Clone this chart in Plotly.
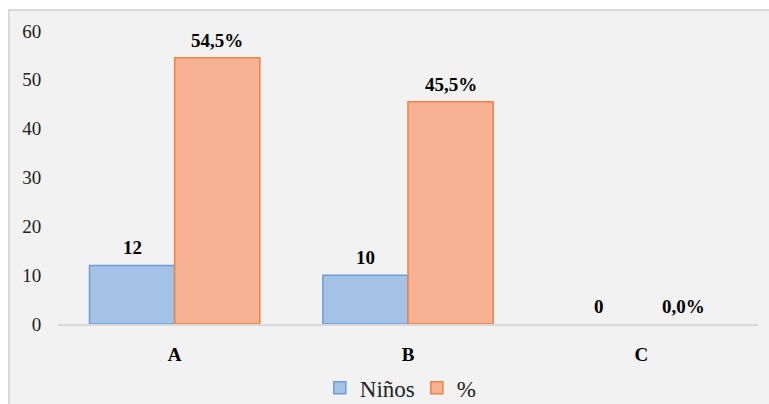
import plotly.graph_objects as go

categories = ["A", "B", "C"]
ninos = [12, 10, 0]
porcentaje = [54.5, 45.5, 0.0]
ninos_labels = ["12", "10", "0"]
pct_labels = ["54,5%", "45,5%", "0,0%"]
y_ticks = [0, 10, 20, 30, 40, 50, 60]

SERIF = "Times New Roman, Liberation Serif, DejaVu Serif, serif"

W, H = 769, 404
ML, MR, MT, MB = 58, 11, 31, 80
BARGAP = 0.27
plot_w = W - ML - MR
cat_w = plot_w / len(categories)
bar_w = cat_w * (1 - BARGAP) / 2
offsets = [-bar_w / 2, bar_w / 2]

fig = go.Figure()
series = [
    ("Niños", ninos, ninos_labels, "#a4c2e6", "#6a9fd6"),
    ("%", porcentaje, pct_labels, "#f6b292", "#ee8240"),
]
annotations = []
for i, (name, vals, labels, fill, edge) in enumerate(series):
    fig.add_trace(go.Bar(
        name=name, x=categories, y=vals,
        marker=dict(color=fill, line=dict(color=edge, width=[1.5 if v > 0 else 0 for v in vals])),
        cliponaxis=False,
    ))
    for c, v, t in zip(categories, vals, labels):
        annotations.append(dict(
            x=c, y=v, xref="x", yref="y", text=t, showarrow=False,
            xshift=offsets[i], yshift=5, yanchor="bottom",
            font=dict(family=SERIF, size=19, color="black", weight="bold"),
        ))

fig.update_layout(
    width=W, height=H,
    margin=dict(l=ML, r=MR, t=MT, b=MB, autoexpand=False),
    paper_bgcolor="white",
    plot_bgcolor="rgba(0,0,0,0)",
    barmode="group",
    bargap=BARGAP,
    bargroupgap=0,
    font=dict(family=SERIF, size=19, color="#222"),
    showlegend=True,
    legend=dict(orientation="h", x=0.374, xanchor="left", y=-0.218, yanchor="middle",
                font=dict(family=SERIF, size=23, color="#222"),
                bgcolor="rgba(0,0,0,0)", itemwidth=30, entrywidth=52, traceorder="normal"),
    annotations=annotations,
    shapes=[dict(type="rect", xref="paper", yref="paper", x0=-0.07, x1=1.1, y0=-0.4, y1=1.0717,
                 fillcolor="#f2f2f2", line=dict(color="#d9d9d9", width=2), layer="below")],
    xaxis=dict(showline=True, linecolor="#d9d9d9", linewidth=1.5, showgrid=False, automargin=False,
               ticks="outside", ticklen=12, tickcolor="rgba(0,0,0,0)",
               tickfont=dict(family=SERIF, size=19, color="black", weight="bold")),
    yaxis=dict(range=[0, 60], tickvals=y_ticks, showgrid=False, zeroline=False, showline=False,
               automargin=False,
               ticks="outside", ticklen=12, tickcolor="rgba(0,0,0,0)",
               tickfont=dict(family=SERIF, size=19, color="#222")),
)

fig.write_html("out.html", post_script="document.body.style.margin='0';",
               config={"displayModeBar": False})
